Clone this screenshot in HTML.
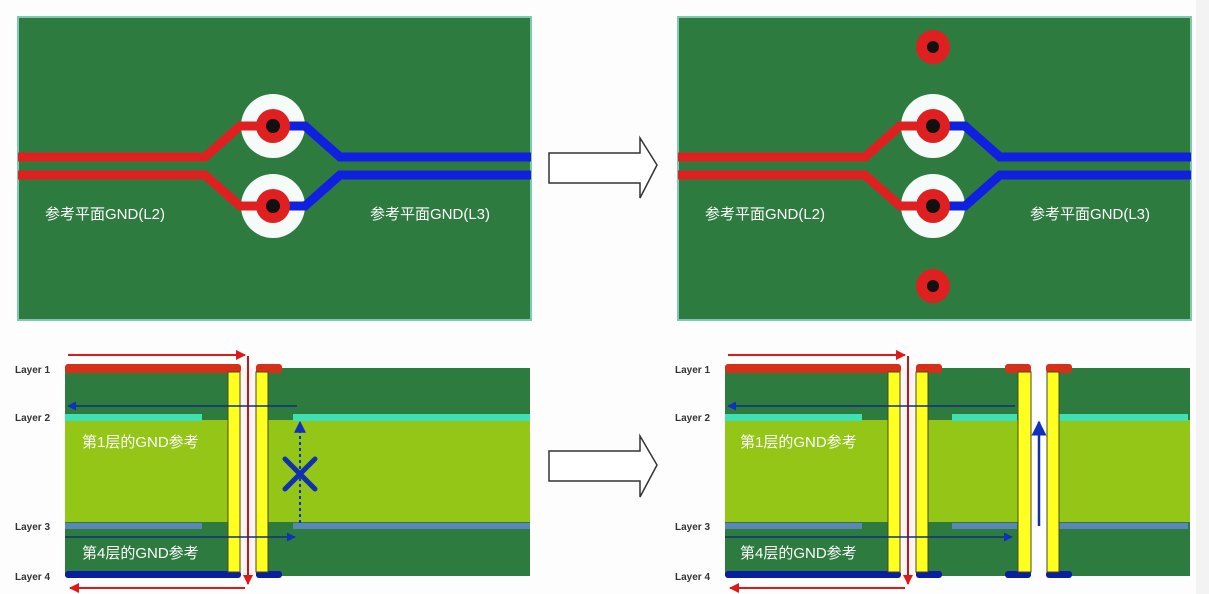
<!DOCTYPE html>
<html><head><meta charset="utf-8"><style>
html,body{margin:0;padding:0;background:#fdfdfd;}
svg{display:block}
text{font-family:"Liberation Sans","Noto Sans CJK SC",sans-serif;}
</style></head><body>
<svg width="1209" height="594" viewBox="0 0 1209 594" xmlns="http://www.w3.org/2000/svg">
<rect x="0" y="0" width="1209" height="594" fill="#fdfdfd"/>
<rect x="1196" y="0" width="13" height="594" fill="#f3f3f3"/>
<defs>
<g id="top">
  <rect x="18" y="17" width="513" height="303" fill="#2e7b40" stroke="#7fc9b0" stroke-width="2"/>
  <circle cx="273" cy="126" r="32" fill="#f4fbf8"/>
  <circle cx="273" cy="206" r="32" fill="#f4fbf8"/>
  <polyline points="18,157 205,157 240,126 273,126" fill="none" stroke="#e02020" stroke-width="9"/>
  <polyline points="18,175 205,175 240,206 273,206" fill="none" stroke="#e02020" stroke-width="9"/>
  <polyline points="273,126 305,126 340,157 531,157" fill="none" stroke="#1020e0" stroke-width="9"/>
  <polyline points="273,206 305,206 340,175 531,175" fill="none" stroke="#1020e0" stroke-width="9"/>
  <circle cx="273" cy="126" r="17" fill="#e02020"/><circle cx="273" cy="126" r="7" fill="#111"/>
  <circle cx="273" cy="206" r="17" fill="#e02020"/><circle cx="273" cy="206" r="7" fill="#111"/>
</g>
<marker id="rh" viewBox="0 0 10 10" refX="9" refY="5" markerWidth="5" markerHeight="5" orient="auto"><path d="M0,0L10,5L0,10z" fill="#e01818"/></marker>
<marker id="bh" viewBox="0 0 10 10" refX="9" refY="5" markerWidth="6" markerHeight="6" orient="auto"><path d="M0,0L10,5L0,10z" fill="#1030c0"/></marker>
</defs>

<use href="#top"/>
<g transform="translate(660,0)"><use href="#top"/>
  <circle cx="273" cy="47" r="17" fill="#e02020"/><circle cx="273" cy="47" r="6" fill="#111"/>
  <circle cx="273" cy="286" r="17" fill="#e02020"/><circle cx="273" cy="286" r="6" fill="#111"/>
</g>
<g fill="#fff" font-size="15">
<text x="45" y="219">参考平面GND(L2)</text><text x="370" y="219">参考平面GND(L3)</text>
<text x="705" y="219">参考平面GND(L2)</text><text x="1030" y="219">参考平面GND(L3)</text>
</g>
<polygon points="549,153 640,153 640,138 657,165 640,198 640,183 549,183" fill="#fff" stroke="#333" stroke-width="1.5"/>
<polygon points="549,451 640,451 640,436 657,465 640,497 640,481 549,481" fill="#fff" stroke="#333" stroke-width="1.5"/>

<!-- bottom left -->
<g>
  <rect x="65" y="368" width="465" height="208" fill="#2e7b40"/>
  <rect x="65" y="420" width="465" height="102" fill="#93c617"/>
  <rect x="65" y="414" width="137" height="7" fill="#3fe0b4"/>
  <rect x="293" y="414" width="237" height="7" fill="#3fe0b4"/>
  <rect x="65" y="523" width="137" height="6" fill="#5a86b8"/>
  <rect x="293" y="523" width="237" height="6" fill="#5a86b8"/>
  <rect x="240" y="368" width="16" height="210" fill="#fbf4f2"/>
  <rect x="65" y="364" width="176" height="9" rx="3" fill="#d83018"/>
  <rect x="256" y="364" width="26" height="9" rx="3" fill="#d83018"/>
  <rect x="65" y="571" width="176" height="7" rx="3" fill="#0a1ea0"/>
  <rect x="256" y="571" width="26" height="7" rx="3" fill="#0a1ea0"/>
  <rect x="228" y="372" width="12" height="200" fill="#ffff20" stroke="#4a4a20" stroke-width="1"/>
  <rect x="256" y="372" width="12" height="200" fill="#ffff20" stroke="#4a4a20" stroke-width="1"/>
  <line x1="68" y1="355" x2="245" y2="355" stroke="#e01818" stroke-width="2" marker-end="url(#rh)"/>
  <line x1="248" y1="356" x2="248" y2="584" stroke="#c01818" stroke-width="2" marker-end="url(#rh)"/>
  <line x1="245" y1="588" x2="70" y2="588" stroke="#e01818" stroke-width="2" marker-end="url(#rh)"/>
  <line x1="297" y1="406" x2="68" y2="406" stroke="#10307a" stroke-width="1.5" marker-end="url(#bh)"/>
  <line x1="65" y1="537" x2="295" y2="537" stroke="#10307a" stroke-width="1.5" marker-end="url(#bh)"/>
  <line x1="300" y1="523" x2="300" y2="422" stroke="#1030c0" stroke-width="2" stroke-dasharray="3,3" marker-end="url(#bh)"/>
  <path d="M285,459L315,489M315,459L285,489" stroke="#1030b0" stroke-width="5" stroke-linecap="round"/>
</g>
<!-- bottom right -->
<g>
  <rect x="725" y="368" width="465" height="208" fill="#2e7b40"/>
  <rect x="725" y="420" width="465" height="102" fill="#93c617"/>
  <rect x="725" y="414" width="137" height="7" fill="#3fe0b4"/>
  <rect x="952" y="414" width="65" height="7" fill="#3fe0b4"/>
  <rect x="1058" y="414" width="130" height="7" fill="#3fe0b4"/>
  <rect x="725" y="523" width="137" height="6" fill="#5a86b8"/>
  <rect x="952" y="523" width="65" height="6" fill="#5a86b8"/>
  <rect x="1058" y="523" width="130" height="6" fill="#5a86b8"/>
  <rect x="900" y="368" width="16" height="210" fill="#fbf4f2"/>
  <rect x="1031" y="368" width="16" height="210" fill="#fdfdfd"/>
  <rect x="725" y="364" width="176" height="9" rx="3" fill="#d83018"/>
  <rect x="916" y="364" width="26" height="9" rx="3" fill="#d83018"/>
  <rect x="1005" y="364" width="26" height="9" rx="3" fill="#d83018"/>
  <rect x="1046" y="364" width="26" height="9" rx="3" fill="#d83018"/>
  <rect x="725" y="571" width="176" height="7" rx="3" fill="#0a1ea0"/>
  <rect x="916" y="571" width="26" height="7" rx="3" fill="#0a1ea0"/>
  <rect x="1005" y="571" width="26" height="7" rx="3" fill="#0a1ea0"/>
  <rect x="1046" y="571" width="26" height="7" rx="3" fill="#0a1ea0"/>
  <rect x="888" y="372" width="12" height="200" fill="#ffff20" stroke="#4a4a20" stroke-width="1"/>
  <rect x="916" y="372" width="12" height="200" fill="#ffff20" stroke="#4a4a20" stroke-width="1"/>
  <rect x="1018" y="372" width="13" height="200" fill="#ffff20" stroke="#4a4a20" stroke-width="1"/>
  <rect x="1047" y="372" width="12" height="200" fill="#ffff20" stroke="#4a4a20" stroke-width="1"/>
  <line x1="728" y1="355" x2="905" y2="355" stroke="#e01818" stroke-width="2" marker-end="url(#rh)"/>
  <line x1="908" y1="356" x2="908" y2="584" stroke="#c01818" stroke-width="2" marker-end="url(#rh)"/>
  <line x1="905" y1="588" x2="730" y2="588" stroke="#e01818" stroke-width="2" marker-end="url(#rh)"/>
  <line x1="1015" y1="406" x2="728" y2="406" stroke="#10307a" stroke-width="1.5" marker-end="url(#bh)"/>
  <line x1="725" y1="537" x2="1012" y2="537" stroke="#10307a" stroke-width="1.5" marker-end="url(#bh)"/>
  <line x1="1039" y1="526" x2="1039" y2="422" stroke="#1030a0" stroke-width="2.5" marker-end="url(#bh)"/>
</g>
<g fill="#fff" font-size="15">
<text x="82" y="447">第1层的GND参考</text><text x="82" y="558">第4层的GND参考</text>
<text x="740" y="447">第1层的GND参考</text><text x="740" y="558">第4层的GND参考</text>
</g>
<g fill="#333" font-size="10" font-weight="bold">
<text x="15" y="373">Layer 1</text><text x="15" y="421">Layer 2</text><text x="15" y="530">Layer 3</text><text x="15" y="580">Layer 4</text>
<text x="675" y="373">Layer 1</text><text x="675" y="421">Layer 2</text><text x="675" y="530">Layer 3</text><text x="675" y="580">Layer 4</text>
</g>
</svg>
</body></html>
